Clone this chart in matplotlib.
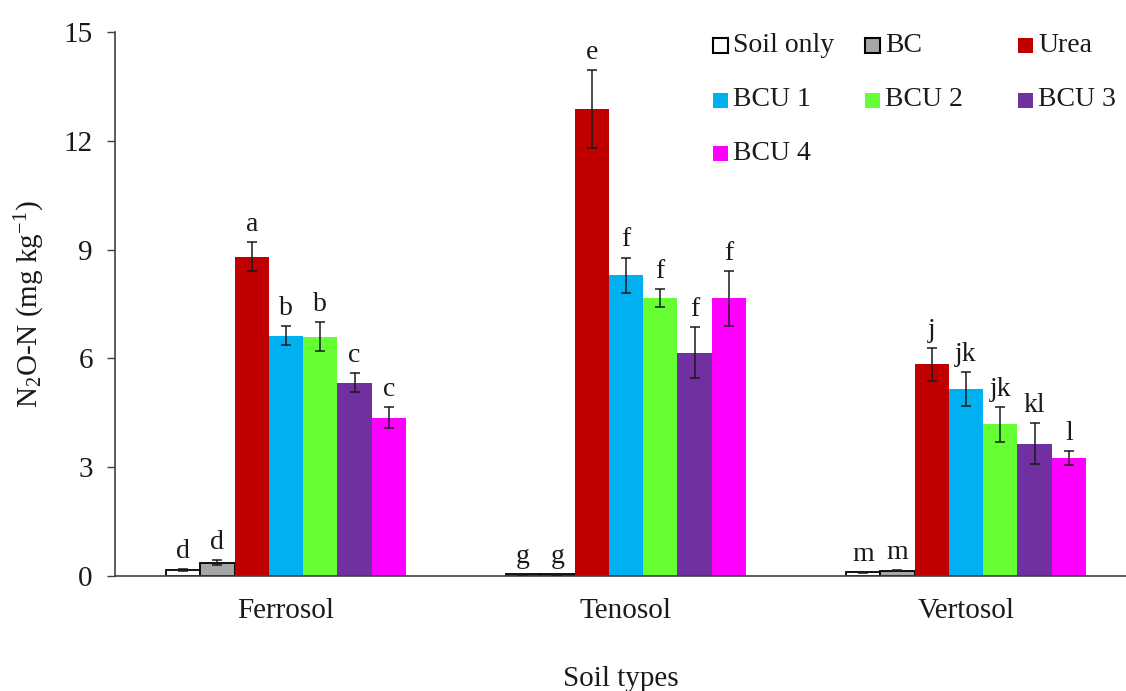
import matplotlib
matplotlib.use("Agg")
import matplotlib.pyplot as plt
from matplotlib.patches import Rectangle
import numpy as np

plt.rcParams['font.family'] = ['Liberation Serif', 'DejaVu Serif']
plt.rcParams['mathtext.fontset'] = 'custom'
plt.rcParams['mathtext.rm'] = 'Liberation Serif'
plt.rcParams['mathtext.it'] = 'Liberation Serif:italic'

soils = ["Ferrosol", "Tenosol", "Vertosol"]
treatments = ["Soil only", "BC", "Urea", "BCU 1", "BCU 2", "BCU 3", "BCU 4"]
colors = ["#FFFFFF", "#A6A6A6", "#C00000", "#00B0F0", "#66FF33", "#7030A0", "#FF00FF"]
edges = ["#000000", "#000000", None, None, None, None, None]

# values per treatment across soils (Ferrosol, Tenosol, Vertosol)
soil_only = [0.17, 0.05, 0.10]
bc        = [0.37, 0.05, 0.15]
urea      = [8.80, 12.88, 5.84]
bcu1      = [6.63, 8.29, 5.16]
bcu2      = [6.60, 7.66, 4.18]
bcu3      = [5.33, 6.16, 3.65]
bcu4      = [4.37, 7.66, 3.26]
values = [soil_only, bc, urea, bcu1, bcu2, bcu3, bcu4]

err_soil_only = [0.03, 0.01, 0.02]
err_bc        = [0.08, 0.01, 0.02]
err_urea      = [0.40, 1.08, 0.45]
err_bcu1      = [0.26, 0.49, 0.47]
err_bcu2      = [0.40, 0.25, 0.48]
err_bcu3      = [0.27, 0.71, 0.57]
err_bcu4      = [0.30, 0.76, 0.19]
errors = [err_soil_only, err_bc, err_urea, err_bcu1, err_bcu2, err_bcu3, err_bcu4]

letters_soil_only = ["d", "g", "m"]
letters_bc        = ["d", "g", "m"]
letters_urea      = ["a", "e", "j"]
letters_bcu1      = ["b", "f", "jk"]
letters_bcu2      = ["b", "f", "jk"]
letters_bcu3      = ["c", "f", "kl"]
letters_bcu4      = ["c", "f", "l"]
letters = [letters_soil_only, letters_bc, letters_urea, letters_bcu1,
           letters_bcu2, letters_bcu3, letters_bcu4]

yticks = [0, 3, 6, 9, 12, 15]

W, H = 1126, 691
fig = plt.figure(figsize=(W / 100, H / 100), dpi=100)
ax = fig.add_axes([115 / W, 1 - 576 / H, (1126 - 115) / W, (576 - 32) / H])

x = np.arange(len(soils))
w = 0.1009
for i, (name, vals, errs, labs) in enumerate(zip(treatments, values, errors, letters)):
    pos = x + (i - 3) * w
    ec = edges[i] if edges[i] else colors[i]
    lw = 1.3 if edges[i] else 0
    ax.bar(pos, vals, width=w, color=colors[i], edgecolor=ec, linewidth=lw,
           label=name, zorder=2)
    ax.errorbar(pos, vals, yerr=errs, fmt='none', ecolor='#1a1a1a',
                elinewidth=1.1, capsize=3.5, capthick=1.1, zorder=3)
    for p, v, e, l in zip(pos, vals, errs, labs):
        ax.annotate(l, xy=(p, v + e), xytext=(0, 8), textcoords='offset points',
                    ha='center', va='baseline', fontsize=20, color='#1a1a1a')

ax.set_xlim((115 - 286) / 340, (1126 - 286) / 340)
ax.set_ylim(0, 15)
ax.set_yticks(yticks)
ax.set_yticklabels([str(t) for t in yticks])
ax.set_xticks(x)
ax.set_xticklabels(soils)

for s in ['top', 'right']:
    ax.spines[s].set_visible(False)
for s in ['left', 'bottom']:
    ax.spines[s].set_color('#404040')
    ax.spines[s].set_linewidth(1.2)

ax.tick_params(axis='y', direction='out', length=6, width=1.0, color='#404040',
               labelsize=21, pad=10, labelcolor='#1a1a1a')
ax.tick_params(axis='x', length=0, labelsize=21, pad=16, labelcolor='#1a1a1a')

ax.set_ylabel(r'N$_2$O-N (mg kg$^{-1}$)', fontsize=21, labelpad=12, color='#1a1a1a')
ax.set_xlabel('Soil types', fontsize=21, labelpad=30, color='#1a1a1a')

# legend laid out in rows like the original (3 per row)
col_px = [713, 865, 1018]
row_px = [45, 100, 153]
sq = 15
for i, name in enumerate(treatments):
    r, c = divmod(i, 3)
    mx, my = col_px[c], row_px[r]
    ec = edges[i] if edges[i] else colors[i]
    rect = Rectangle((mx / W, 1 - (my + sq / 2) / H), sq / W, sq / H,
                     transform=fig.transFigure, facecolor=colors[i],
                     edgecolor=ec, linewidth=1.5 if edges[i] else 0)
    fig.patches.append(rect)
    fig.text((mx + sq + 5) / W, 1 - my / H, name, fontsize=20,
             ha='left', va='center', color='#1a1a1a')

fig.savefig("out.png", dpi=100)
